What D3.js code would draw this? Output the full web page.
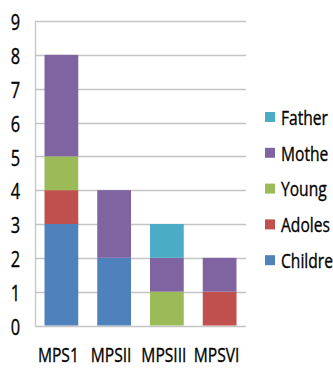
<!DOCTYPE html>
<html><head><meta charset="utf-8">
<script src="https://cdn.jsdelivr.net/npm/d3@7"></script>
<style>body{margin:0;background:#fff;overflow:hidden}svg{display:block}text{font-family:"Open Sans",sans-serif;fill:#000;stroke:#000;stroke-width:0.35px}</style>
</head><body><svg id="c" width="333" height="368"></svg>
<script>
const categories = ["MPS1","MPSII","MPSIII","MPSVI"];
const seriesNames = ["Children","Adolescent","Young","Mother","Father"];
const legendLabels = ["Childre","Adoles","Young","Mothe","Father"];
const children   = [3,2,0,0];
const adolescent = [1,0,0,1];
const young      = [1,0,1,0];
const mother     = [3,2,1,1];
const father     = [0,0,1,0];
const yTicks = [0,1,2,3,4,5,6,7,8,9];
const colors = ["#4F81BD","#C0504D","#9BBB59","#8064A2","#4BACC6"];

(function(){
const seriesVals = [children, adolescent, young, mother, father];
const rows = categories.map((c,i)=>{const r={cat:c}; seriesNames.forEach((s,j)=>r[s]=seriesVals[j][i]); return r;});
const stack = d3.stack().keys(seriesNames)(rows);

const svg = d3.select("#c");
const pL=35, pR=246, pT=21, pB=325.5;
const x = d3.scaleBand().domain(categories).range([pL,pR]).paddingInner(0.36).paddingOuter(0.18);
const y = d3.scaleLinear().domain([0,9]).range([pB,pT]);
const sx = 0.78;

svg.append("g").selectAll("line").data(yTicks).join("line")
  .attr("x1",pL).attr("x2",pR).attr("y1",d=>Math.round(y(d))+0.5).attr("y2",d=>Math.round(y(d))+0.5)
  .attr("stroke","#c4c4c4").attr("stroke-width",1.3);
svg.append("line").attr("x1",pL+0.5).attr("x2",pL+0.5).attr("y1",pT).attr("y2",pB+0.5)
  .attr("stroke","#c4c4c4").attr("stroke-width",1.3);

svg.append("g").selectAll("g").data(stack).join("g").attr("fill",(d,i)=>colors[i])
  .selectAll("rect").data(d=>d.filter(p=>p[1]>p[0])).join("rect")
  .attr("x",d=>x(d.data.cat)).attr("width",x.bandwidth())
  .attr("y",d=>y(d[1])).attr("height",d=>y(d[0])-y(d[1]));

svg.append("g").selectAll("g").data(yTicks).join("g")
  .attr("transform",d=>`translate(20,${y(d)+1.5}) scale(${sx},1)`)
  .append("text").attr("text-anchor","end").attr("dominant-baseline","central")
  .attr("font-size",21).text(d=>d);

svg.append("g").selectAll("g").data(categories).join("g")
  .attr("transform",d=>`translate(${x(d)+x.bandwidth()/2-3},362) scale(${sx},1)`)
  .append("text").attr("text-anchor","middle").attr("font-size",20).text(d=>d);

const legendOrder = [4,3,2,1,0];
const lg = svg.append("g").selectAll("g").data(legendOrder).join("g")
  .attr("transform",(d,i)=>`translate(265,${117+i*35.8})`);
lg.append("rect").attr("x",0).attr("y",-5).attr("width",10).attr("height",10).attr("fill",d=>colors[d]);
lg.append("g").attr("transform",`translate(16,0) scale(${sx},1)`)
  .append("text").attr("dominant-baseline","central").attr("font-size",20).text(d=>legendLabels[d]);
})();
</script></body></html>
